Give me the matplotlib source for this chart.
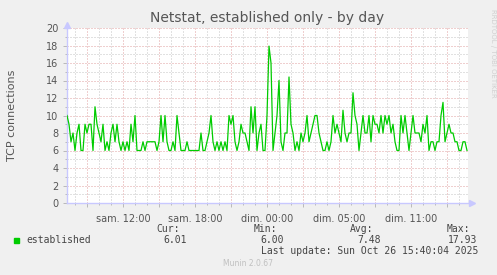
import numpy as np
import matplotlib
matplotlib.use("Agg")
import matplotlib.pyplot as plt

## data (one sample every 10 minutes)
# time axis in hours since sam. 00:00 (real hours, DST switch on sunday)
t_end = 40 + 40/60          # last update 15:40 (CET)
t_start = t_end - 400/12    # munin day graph : 400 px, 5 min per px
established = [
    10, 9, 7, 8, 6, 8, 9, 6, 6, 9, 8, 9, 9, 6, 11, 9, 8, 7, 9, 6, 7,
    6, 8, 9, 7, 9, 7, 6, 7, 6, 7, 6, 9, 7, 10, 6, 6, 6, 7, 6, 7,
    7, 7, 7, 7, 6, 7, 10, 7, 10, 7, 6, 6, 7, 6, 10, 8, 6, 6, 6, 7,
    6, 6, 6, 6, 6, 6, 8, 6, 6, 7, 8, 10, 7, 6, 7, 6, 7, 6, 7, 6, 10,
    9, 10, 7, 6, 7, 9, 8, 8, 7, 6, 11, 8, 11, 6, 8, 9, 6, 6, 10, 17.93,
    16, 6, 8, 10, 14, 7, 6, 8, 8, 14.4, 9, 8, 6, 7, 6, 8, 7, 8, 10, 7, 8,
    9, 10, 10, 8, 7, 6, 6, 7, 6, 7, 10, 8, 9, 8, 7, 10.6, 8, 7, 8, 8,
    12.6, 10, 9, 6, 8, 10, 8, 8, 10, 7, 10, 9, 9, 8, 10, 8, 10, 9, 10, 8, 9,
    7, 6, 6, 10, 8, 10, 8, 6, 8, 10, 8, 8, 8, 7, 9, 8, 10, 6, 7, 7,
    6, 7, 7, 10, 11.5, 7, 8, 9, 8, 8, 7, 7, 6, 6, 7, 7, 6.01,
]
t = np.linspace(t_start, t_end, len(established))

x_labels = {12: "sam. 12:00", 18: "sam. 18:00", 24: "dim. 00:00",
            30: "dim. 05:00", 36: "dim. 11:00"}

stats_names = ["Cur:", "Min:", "Avg:", "Max:"]
stats_values = ["6.01", "6.00", "7.48", "17.93"]

## figure
W, H = 497, 275
fig = plt.figure(figsize=(W/100, H/100), dpi=100, facecolor='#f0f0f0')
ax = fig.add_axes([67/W, (H-203)/H, 401/W, 175/H])
ax.set_facecolor('white')

ax.plot(t, established, color='#00cc00', lw=0.9, zorder=3)

ax.set_xlim(t_start, t_start + 401/12)
ax.set_ylim(0, 20)

# grille : rouge pour les majeures, grise pour les mineures
ax.set_yticks(np.arange(0, 21, 2))
ax.set_yticks(np.arange(0, 21, 1), minor=True)
major_x = np.arange(9, 41, 3)
ax.set_xticks(major_x)
ax.set_xticklabels([x_labels.get(int(v), "") for v in major_x])
ax.set_xticks(np.arange(8, 41, 1), minor=True)

ax.grid(which='minor', color='#c4c4c4', lw=0.72, ls=(0, (1, 2)), zorder=1)
ax.grid(which='major', color='#e0a0a0', lw=0.72, ls=(0, (1, 2)), zorder=2)

ax.tick_params(which='both', direction='out', color='#b0b0b0', width=0.6,
               labelsize=7, labelcolor='#555555')
ax.tick_params(which='major', length=3, pad=3)
ax.tick_params(which='minor', length=1.5)
ax.tick_params(axis='x', pad=5)

for s in ['top', 'right']:
    ax.spines[s].set_visible(False)
for s in ['left', 'bottom']:
    ax.spines[s].set_color('#c8c8ff')
    ax.spines[s].set_linewidth(1)
ax.plot(0, 1.02, '^', color='#c8c8ff', ms=5, transform=ax.transAxes, clip_on=False)
ax.plot(1.01, 0, '>', color='#c8c8ff', ms=5, transform=ax.transAxes, clip_on=False)

ax.set_ylabel("TCP connections", fontsize=8, color='#555555')
ax.yaxis.set_label_coords(-50/401, 0.5)

def px(x, y):
    return x / W, 1 - y / H

fig.text(*px(267, 18), "Netstat, established only - by day", fontsize=10,
         color='#555555', ha='center', va='center')
fig.text(*px(493, 53), "RRDTOOL / TOBI OETIKER", fontsize=5, color='#d0d0d0',
         rotation=270, ha='center', va='center')

# legende
mono = dict(family='DejaVu Sans Mono', fontsize=7, color='#444444', va='center')
fig.patches.append(plt.Rectangle(px(14, 243), 5/W, 5/H, transform=fig.transFigure,
                                 color='#00cc00'))
fig.text(*px(26, 240), "established", **mono)
for i, (name, val) in enumerate(zip(stats_names, stats_values)):
    xr = 180 + i * 96.7
    fig.text(*px(xr, 229), name, ha='right', **mono)
    fig.text(*px(xr + 7, 240), val, ha='right', **mono)
fig.text(*px(261, 251), "Last update: Sun Oct 26 15:40:04 2025", **mono)
fig.text(*px(248, 264), "Munin 2.0.67", fontsize=5.5, color='#c0c0c0',
         ha='center', va='center')

fig.savefig("out.png", dpi=100, facecolor=fig.get_facecolor())
